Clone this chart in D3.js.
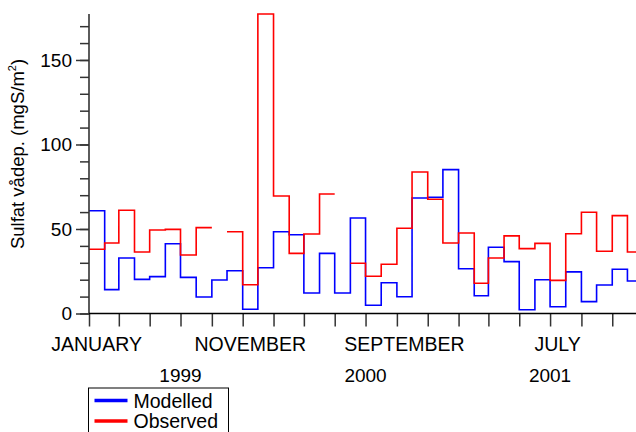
<!DOCTYPE html>
<html>
<head>
<meta charset="utf-8">
<script src="https://cdn.jsdelivr.net/npm/d3@7"></script>
<style>
  html, body { margin: 0; padding: 0; background: #fff; }
  svg { display: block; font-family: "Liberation Sans", Arial, sans-serif; }
</style>
</head>
<body>
<svg id="chart" width="636" height="432"></svg>
<script>
// Monthly sulphate wet deposition, January 1999 – December 2001
const firstMonth = new Date(Date.UTC(1999, 0, 1));
const endMonth = new Date(Date.UTC(2002, 0, 1));
const months = d3.utcMonths(firstMonth, endMonth);

const modelled = [
  60.8, 14.1, 32.8, 20.2, 21.8, 41.3, 21.4, 9.8, 19.8, 25.3, 2.5, 27.1,
  48.4, 46.6, 12.1, 35.6, 12.1, 56.5, 4.9, 18.2, 9.9, 68.3, 68.8, 85.1,
  26.5, 10.5, 39.2, 30.7, 2.2, 20.0, 4.0, 24.6, 7.0, 16.9, 26.2, 19.2
];
const observed = [
  38.0, 41.7, 61.1, 36.4, 49.4, 49.8, 34.6, 50.8, null, 48.4, 17.0, 177.2,
  69.5, 35.6, 47.0, 70.7, null, 29.7, 22.0, 29.1, 50.4, 83.7, 67.6, 41.7,
  47.6, 17.9, 32.8, 45.9, 38.4, 41.5, 19.6, 47.2, 59.9, 36.8, 57.9, 36.4
];

const seriesNames = ["Modelled", "Observed"];
const seriesColors = ["#0000ff", "#ff0000"];
const yMajorTicks = [0, 50, 100, 150];
const monthLabels = [
  { date: new Date(Date.UTC(1999, 0, 1)), text: "JANUARY" },
  { date: new Date(Date.UTC(1999, 10, 1)), text: "NOVEMBER" },
  { date: new Date(Date.UTC(2000, 8, 1)), text: "SEPTEMBER" },
  { date: new Date(Date.UTC(2001, 6, 1)), text: "JULY" }
];
const yearLabels = [
  { date: new Date(Date.UTC(1999, 6, 1)), text: "1999" },
  { date: new Date(Date.UTC(2000, 6, 1)), text: "2000" },
  { date: new Date(Date.UTC(2001, 6, 1)), text: "2001" }
];

const svg = d3.select("#chart");
const W = 636;
const plotLeft = 89, plotTop = 14, plotBottom = 313.5;

const x = d3.scaleUtc().domain([firstMonth, endMonth]).range([plotLeft, 643.1]);
const yMax = d3.max(modelled.concat(observed));
const y = d3.scaleLinear().domain([0, yMax]).range([plotBottom, plotTop]);

// Each month's value is held flat across the month
function stepPoints(values) {
  const pts = [];
  values.forEach((v, i) => {
    const start = months[i];
    const end = d3.utcMonth.offset(start, 1);
    pts.push({ t: start, v: v });
    pts.push({ t: end, v: v });
  });
  return pts;
}

const line = d3.line()
  .defined(d => d.v !== null)
  .x(d => x(d.t))
  .y(d => y(d.v));

[modelled, observed].forEach((vals, k) => {
  svg.append("path")
    .datum(stepPoints(vals))
    .attr("fill", "none")
    .attr("stroke", seriesColors[k])
    .attr("stroke-width", 1.6)
    .attr("d", line);
});

// Y axis: minor ticks every 10, labels every 50
const axisColor = "#333";
const yAxis = svg.append("g").attr("transform", `translate(${plotLeft},0)`);
yAxis.call(d3.axisLeft(y).tickValues(d3.range(0, yMax, 10)).tickSize(9).tickFormat(""))
  .call(g => g.select(".domain").remove());
yAxis.call(g => g.append("g").call(d3.axisLeft(y).tickValues(yMajorTicks).tickSize(13).tickPadding(4))
  .call(a => a.select(".domain").remove()));
yAxis.selectAll("line").attr("stroke", axisColor).attr("stroke-width", 1.5);
yAxis.selectAll("text").attr("font-size", 19).attr("fill", "#000")
  .attr("font-family", "Liberation Sans, Arial, sans-serif");
yAxis.append("line").attr("x1", 0).attr("x2", 0).attr("y1", y(yMax)).attr("y2", plotBottom)
  .attr("stroke", axisColor).attr("stroke-width", 1.6);

// X axis: ticks every two months
const xAxis = svg.append("g").attr("transform", `translate(0,${plotBottom})`);
xAxis.call(d3.axisBottom(x).ticks(d3.utcMonth.every(2)).tickSize(13).tickFormat(""))
  .call(g => g.select(".domain").remove());
xAxis.selectAll("line").attr("stroke", axisColor).attr("stroke-width", 1.5);
xAxis.append("line").attr("x1", plotLeft).attr("x2", W).attr("y1", 0).attr("y2", 0)
  .attr("stroke", "#000").attr("stroke-width", 1.6);

svg.append("g").selectAll("text").data(monthLabels).join("text")
  .attr("x", d => x(d3.utcDay.offset(d.date, 15)))
  .attr("y", 351)
  .attr("text-anchor", "middle")
  .attr("font-size", 19.5)
  .text(d => d.text);

svg.append("g").selectAll("text").data(yearLabels).join("text")
  .attr("x", d => x(d.date))
  .attr("y", 381.5)
  .attr("text-anchor", "middle")
  .attr("font-size", 19)
  .text(d => d.text);

// Y axis title
const title = svg.append("text")
  .attr("transform", "translate(24,154) rotate(-90)")
  .attr("text-anchor", "middle")
  .attr("font-size", 18.5);
title.append("tspan").text("Sulfat vådep. (mgS/m");
title.append("tspan").attr("font-size", 11).attr("dy", -8).text("2");
title.append("tspan").attr("dy", 8).text(")");

// Legend
const legend = svg.append("g");
legend.append("rect")
  .attr("x", 88.5).attr("y", 388).attr("width", 140).attr("height", 60)
  .attr("fill", "#fff").attr("stroke", "#000").attr("stroke-width", 1);
seriesNames.forEach((name, i) => {
  const ly = 400.5 + i * 20.5;
  legend.append("line")
    .attr("x1", 94.5).attr("x2", 127.5).attr("y1", ly).attr("y2", ly)
    .attr("stroke", seriesColors[i]).attr("stroke-width", 3.5);
  legend.append("text")
    .attr("x", 133.5).attr("y", ly + 7)
    .attr("font-size", 19.5)
    .text(name);
});
</script>
</body>
</html>
